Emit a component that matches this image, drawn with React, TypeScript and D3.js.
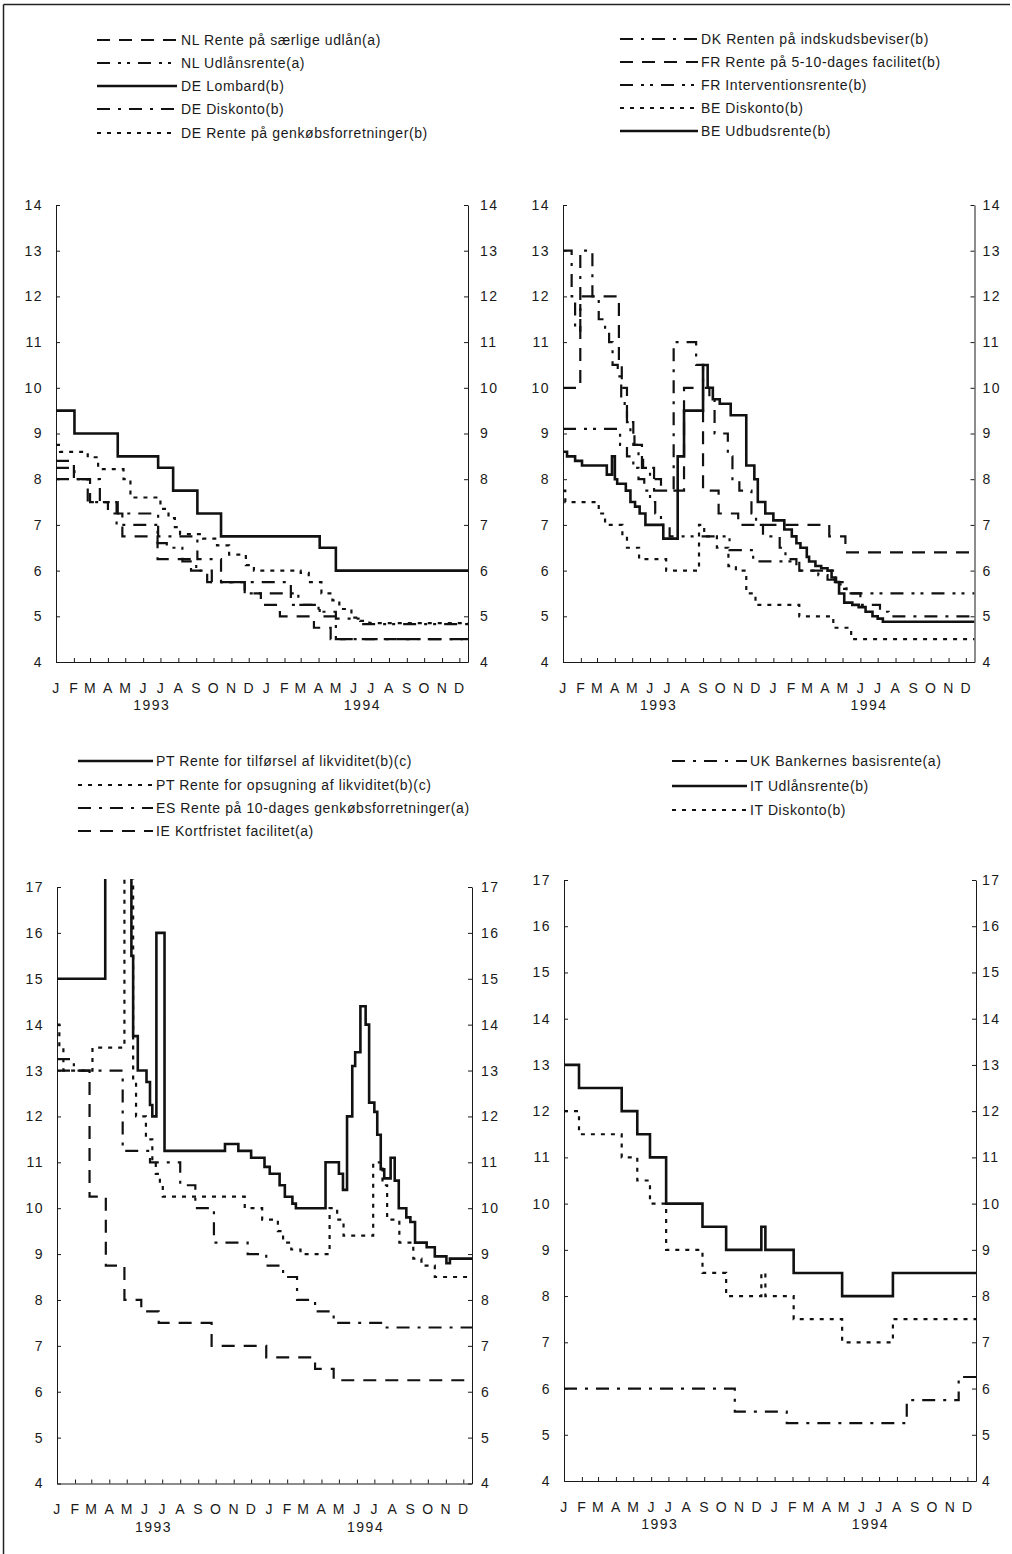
import React, { useEffect, useRef } from "react";
import * as d3 from "d3";

type Step = [string, number];

const FONT = "'Liberation Sans', Arial, Helvetica, sans-serif";

const monthLetters = ["J", "F", "M", "A", "M", "J", "J", "A", "S", "O", "N", "D"];
const yearLabels = ["1993", "1994"];
const yTicksTop = [4, 5, 6, 7, 8, 9, 10, 11, 12, 13, 14];
const yTicksBottom = [4, 5, 6, 7, 8, 9, 10, 11, 12, 13, 14, 15, 16, 17];

// ---- panel 1: NL / DE
const nlSaerligeUdlaan: Step[] = [
  ["1993-01-01", 8.4], ["1993-02-01", 8.0], ["1993-03-01", 7.5], ["1993-04-01", 7.25],
  ["1993-04-26", 6.75], ["1993-06-26", 6.25], ["1993-08-23", 6.0], ["1993-09-20", 5.75],
  ["1993-11-24", 5.5], ["1993-12-22", 5.25], ["1994-01-24", 5.0], ["1994-03-24", 4.75],
  ["1994-04-22", 4.5],
];
const nlUdlaansrente: Step[] = [
  ["1993-01-01", 8.0], ["1993-02-25", 7.5], ["1993-04-16", 7.0], ["1993-06-26", 6.6],
  ["1993-07-12", 6.5], ["1993-08-08", 6.2], ["1993-09-01", 6.0], ["1993-09-28", 5.75],
  ["1993-11-24", 5.5], ["1994-02-25", 5.25], ["1994-04-01", 5.1], ["1994-05-01", 4.95],
  ["1994-06-15", 4.83],
];
const deLombard: Step[] = [
  ["1993-01-01", 9.5], ["1993-02-02", 9.0], ["1993-04-18", 8.5], ["1993-06-27", 8.25],
  ["1993-07-23", 7.75], ["1993-09-03", 7.25], ["1993-10-14", 6.75], ["1994-04-03", 6.5],
  ["1994-05-01", 6.0],
];
const deDiskonto: Step[] = [
  ["1993-01-01", 8.25], ["1993-02-02", 8.0], ["1993-03-18", 7.5], ["1993-04-18", 7.25],
  ["1993-06-27", 6.75], ["1993-09-03", 6.25], ["1993-10-14", 5.75], ["1994-02-12", 5.25],
  ["1994-04-03", 5.0], ["1994-05-01", 4.5],
];
const deGenkoeb: Step[] = [
  ["1993-01-01", 8.75], ["1993-01-08", 8.6], ["1993-02-25", 8.48], ["1993-03-15", 8.22],
  ["1993-04-28", 8.0], ["1993-05-10", 7.6], ["1993-07-01", 7.35], ["1993-07-15", 7.15],
  ["1993-07-26", 6.95], ["1993-08-04", 6.8], ["1993-09-13", 6.7], ["1993-10-07", 6.55],
  ["1993-10-28", 6.35], ["1993-11-26", 6.12], ["1993-12-10", 6.0], ["1994-03-01", 5.95],
  ["1994-03-15", 5.75], ["1994-04-06", 5.5], ["1994-04-25", 5.35], ["1994-05-07", 5.16],
  ["1994-05-28", 4.97], ["1994-06-12", 4.9], ["1994-06-28", 4.85],
];

// ---- panel 2: DK / FR / BE
const dkIndskud: Step[] = [
  ["1993-01-01", 13.0], ["1993-01-16", 12.0], ["1993-01-22", 11.25], ["1993-01-31", 13.0],
  ["1993-02-21", 12.0], ["1993-03-04", 11.5], ["1993-03-15", 11.25], ["1993-03-22", 11.0],
  ["1993-03-28", 10.5], ["1993-04-06", 10.25], ["1993-04-12", 9.75], ["1993-04-18", 9.5],
  ["1993-04-22", 9.25], ["1993-04-28", 9.0], ["1993-05-05", 8.75], ["1993-05-12", 8.5],
  ["1993-05-20", 8.25], ["1993-06-01", 8.0], ["1993-06-20", 7.75], ["1993-07-12", 11.0],
  ["1993-08-20", 10.5], ["1993-09-01", 10.0], ["1993-09-12", 9.75], ["1993-09-21", 9.0],
  ["1993-10-14", 8.5], ["1993-10-22", 8.0], ["1993-11-03", 7.75], ["1993-11-24", 7.25],
  ["1993-12-02", 7.0], ["1993-12-14", 6.75], ["1994-01-12", 6.5], ["1994-01-22", 6.25],
  ["1994-02-10", 6.0], ["1994-04-20", 5.75], ["1994-05-08", 5.5], ["1994-06-01", 5.25],
  ["1994-07-05", 5.1], ["1994-07-20", 5.0],
];
const frFacilitet: Step[] = [
  ["1993-01-01", 10.0], ["1993-01-31", 12.0], ["1993-04-08", 10.5], ["1993-04-13", 10.0],
  ["1993-04-22", 9.25], ["1993-05-03", 8.75], ["1993-05-18", 8.25], ["1993-06-08", 7.75],
  ["1993-07-30", 10.0], ["1993-09-01", 7.75], ["1993-09-28", 7.25], ["1993-11-01", 7.0],
  ["1994-04-08", 6.75], ["1994-05-06", 6.4],
];
const frIntervention: Step[] = [
  ["1993-01-01", 9.1], ["1993-04-10", 8.75], ["1993-04-22", 8.5], ["1993-05-03", 8.25],
  ["1993-05-12", 8.0], ["1993-05-22", 7.75], ["1993-06-01", 7.5], ["1993-06-10", 7.25],
  ["1993-06-20", 7.0], ["1993-07-05", 6.75], ["1993-10-17", 6.45], ["1993-11-27", 6.2],
  ["1994-02-15", 6.0], ["1994-03-20", 5.9], ["1994-04-05", 5.8], ["1994-04-20", 5.7],
  ["1994-05-01", 5.6], ["1994-05-15", 5.5],
];
const beDiskonto: Step[] = [
  ["1993-01-01", 7.75], ["1993-01-05", 7.5], ["1993-03-04", 7.25], ["1993-03-15", 7.0],
  ["1993-04-14", 6.75], ["1993-04-22", 6.5], ["1993-05-13", 6.25], ["1993-06-29", 6.0],
  ["1993-08-25", 7.0], ["1993-09-03", 6.75], ["1993-09-25", 6.5], ["1993-10-15", 6.1],
  ["1993-10-28", 6.0], ["1993-11-15", 5.5], ["1993-12-01", 5.25], ["1994-02-15", 5.0],
  ["1994-04-15", 4.75], ["1994-05-16", 4.5],
];
const beUdbud: Step[] = [
  ["1993-01-01", 8.6], ["1993-01-08", 8.5], ["1993-01-22", 8.4], ["1993-02-03", 8.3],
  ["1993-03-18", 8.1], ["1993-03-27", 8.5], ["1993-04-01", 8.0], ["1993-04-05", 7.9],
  ["1993-04-20", 7.75], ["1993-04-28", 7.5], ["1993-05-06", 7.4], ["1993-05-14", 7.25],
  ["1993-05-24", 7.0], ["1993-06-24", 6.7], ["1993-07-19", 8.5], ["1993-07-30", 9.5],
  ["1993-09-01", 10.5], ["1993-09-09", 10.0], ["1993-09-18", 9.75], ["1993-09-30", 9.65],
  ["1993-10-19", 9.4], ["1993-11-15", 8.3], ["1993-11-29", 8.0], ["1993-12-05", 7.5],
  ["1993-12-18", 7.25], ["1994-01-01", 7.1], ["1994-01-20", 6.9], ["1994-02-02", 6.75],
  ["1994-02-10", 6.6], ["1994-02-17", 6.5], ["1994-02-28", 6.3], ["1994-03-04", 6.2],
  ["1994-03-15", 6.1], ["1994-03-25", 6.05], ["1994-04-05", 6.0], ["1994-04-12", 5.85],
  ["1994-04-18", 5.75], ["1994-04-25", 5.5], ["1994-05-04", 5.3], ["1994-05-18", 5.25],
  ["1994-05-29", 5.2], ["1994-06-10", 5.1], ["1994-06-22", 5.0], ["1994-07-01", 4.95],
  ["1994-07-10", 4.88],
];

// ---- panel 3: PT / ES / IE
const ptTilfoersel: Step[] = [
  ["1993-01-01", 15.0], ["1993-03-25", 20.0], ["1993-05-09", 15.5], ["1993-05-12", 13.75],
  ["1993-05-20", 13.0], ["1993-06-04", 12.75], ["1993-06-10", 12.25], ["1993-06-14", 12.0],
  ["1993-06-21", 16.0], ["1993-07-05", 11.25], ["1993-10-17", 11.4], ["1993-11-09", 11.25],
  ["1993-12-01", 11.1], ["1993-12-24", 10.9], ["1994-01-02", 10.75], ["1994-01-19", 10.5],
  ["1994-01-28", 10.25], ["1994-02-10", 10.1], ["1994-02-16", 10.0], ["1994-04-08", 11.0],
  ["1994-05-01", 10.75], ["1994-05-08", 10.4], ["1994-05-15", 12.0], ["1994-05-24", 13.1],
  ["1994-05-29", 13.4], ["1994-06-07", 14.4], ["1994-06-16", 14.0], ["1994-06-22", 12.3],
  ["1994-07-01", 12.1], ["1994-07-06", 11.6], ["1994-07-12", 10.85], ["1994-07-18", 10.65],
  ["1994-07-29", 11.1], ["1994-08-05", 10.6], ["1994-08-12", 10.0], ["1994-08-25", 9.8],
  ["1994-09-01", 9.7], ["1994-09-09", 9.25], ["1994-09-29", 9.15], ["1994-10-13", 8.95],
  ["1994-11-02", 8.8], ["1994-11-08", 8.9],
];
const ptOpsugning: Step[] = [
  ["1993-01-01", 14.0], ["1993-01-05", 13.5], ["1993-01-12", 13.0], ["1993-03-03", 13.5],
  ["1993-04-27", 17.5], ["1993-05-12", 12.75], ["1993-05-17", 12.0], ["1993-06-03", 11.5],
  ["1993-06-14", 11.0], ["1993-06-20", 10.75], ["1993-06-27", 10.5], ["1993-07-02", 10.25],
  ["1993-11-20", 10.0], ["1993-12-20", 9.75], ["1994-01-16", 9.5], ["1994-01-25", 9.25],
  ["1994-02-08", 9.1], ["1994-02-24", 9.0], ["1994-04-15", 10.0], ["1994-04-28", 9.75],
  ["1994-05-09", 9.4], ["1994-06-29", 11.0], ["1994-07-15", 10.5], ["1994-07-23", 9.75],
  ["1994-08-13", 9.25], ["1994-09-06", 8.9], ["1994-09-20", 8.75], ["1994-10-13", 8.5],
];
const esGenkoeb: Step[] = [
  ["1993-01-01", 13.25], ["1993-01-30", 13.0], ["1993-04-24", 11.25], ["1993-06-10", 11.0],
  ["1993-08-01", 10.5], ["1993-08-27", 10.0], ["1993-09-28", 9.25], ["1993-11-25", 9.0],
  ["1993-12-27", 8.75], ["1994-01-25", 8.5], ["1994-02-18", 8.0], ["1994-03-21", 7.75],
  ["1994-04-22", 7.5], ["1994-07-17", 7.4],
];
const ieKortfristet: Step[] = [
  ["1993-01-01", 13.0], ["1993-02-26", 10.25], ["1993-03-26", 8.75], ["1993-04-27", 8.0],
  ["1993-05-26", 7.75], ["1993-06-25", 7.5], ["1993-09-24", 7.0], ["1993-12-27", 6.75],
  ["1994-03-21", 6.5], ["1994-04-22", 6.25],
];

// ---- panel 4: UK / IT
const ukBasis: Step[] = [
  ["1993-01-01", 6.0], ["1993-10-24", 5.5], ["1994-01-22", 5.25], ["1994-08-18", 5.75],
  ["1994-11-16", 6.25],
];
const itUdlaan: Step[] = [
  ["1993-01-01", 13.0], ["1993-01-27", 12.5], ["1993-04-11", 12.0], ["1993-05-08", 11.5],
  ["1993-05-30", 11.0], ["1993-06-27", 10.0], ["1993-08-29", 9.5], ["1993-10-09", 9.0],
  ["1993-12-09", 9.5], ["1993-12-16", 9.0], ["1994-02-03", 8.5], ["1994-04-28", 8.0],
  ["1994-07-25", 8.5],
];
const itDiskonto: Step[] = [
  ["1993-01-01", 12.0], ["1993-01-27", 11.5], ["1993-04-11", 11.0], ["1993-05-08", 10.5],
  ["1993-05-30", 10.0], ["1993-06-27", 9.0], ["1993-08-29", 8.5], ["1993-10-09", 8.0],
  ["1993-12-09", 8.5], ["1993-12-16", 8.0], ["1994-02-03", 7.5], ["1994-04-28", 7.0],
  ["1994-07-25", 7.5],
];

const dashes: Record<string, string | null> = {
  solid: null,
  longDash: "13,9",
  dashDot: "13,8,3,8",
  dashDotDot: "13,8,3,6,3,8",
  dotted: "4,6",
};

const panels = [
  {
    id: "nl", x0: 56, x1: 468, yTop: 205, yBot: 662, yMax: 14, ticks: yTicksTop, rightPad: 12,
    legend: { lx0: 97, lx1: 177, tx: 181, rows: [40, 63, 86, 109, 133] },
    series: [
      { label: "NL Rente på særlige udlån(a)", data: nlSaerligeUdlaan, style: "longDash" },
      { label: "NL Udlånsrente(a)", data: nlUdlaansrente, style: "dashDotDot" },
      { label: "DE Lombard(b)", data: deLombard, style: "solid" },
      { label: "DE Diskonto(b)", data: deDiskonto, style: "dashDot" },
      { label: "DE Rente på genkøbsforretninger(b)", data: deGenkoeb, style: "dotted" },
    ],
  },
  {
    id: "fr", x0: 563, x1: 974.5, yTop: 205, yBot: 662, yMax: 14, ticks: yTicksTop, rightPad: 8,
    legend: { lx0: 620, lx1: 698, tx: 701, rows: [39, 62, 85, 108, 131] },
    series: [
      { label: "DK Renten på indskudsbeviser(b)", data: dkIndskud, style: "dashDot" },
      { label: "FR Rente på 5-10-dages facilitet(b)", data: frFacilitet, style: "longDash" },
      { label: "FR Interventionsrente(b)", data: frIntervention, style: "dashDotDot" },
      { label: "BE Diskonto(b)", data: beDiskonto, style: "dotted" },
      { label: "BE Udbudsrente(b)", data: beUdbud, style: "solid" },
    ],
  },
  {
    id: "pt", x0: 57, x1: 472, yTop: 887, yBot: 1483.5, yMax: 17, ticks: yTicksBottom, rightPad: 9,
    legend: { lx0: 78, lx1: 153, tx: 156, rows: [761, 785, 808, 831] },
    series: [
      { label: "PT Rente for tilførsel af likviditet(b)(c)", data: ptTilfoersel, style: "solid" },
      { label: "PT Rente for opsugning af likviditet(b)(c)", data: ptOpsugning, style: "dotted" },
      { label: "ES Rente på 10-dages genkøbsforretninger(a)", data: esGenkoeb, style: "dashDot" },
      { label: "IE Kortfristet facilitet(a)", data: ieKortfristet, style: "longDash" },
    ],
  },
  {
    id: "it", x0: 564, x1: 976, yTop: 880, yBot: 1481, yMax: 17, ticks: yTicksBottom, rightPad: 6,
    legend: { lx0: 672, lx1: 747, tx: 750, rows: [761, 786, 810] },
    series: [
      { label: "UK Bankernes basisrente(a)", data: ukBasis, style: "dashDot" },
      { label: "IT Udlånsrente(b)", data: itUdlaan, style: "solid" },
      { label: "IT Diskonto(b)", data: itDiskonto, style: "dotted" },
    ],
  },
];

const parse = d3.timeParse("%Y-%m-%d");
const start = new Date(1993, 0, 1);
const end = new Date(1994, 11, 16);

function drawPanel(svg: any, p: any) {
  const x = d3.scaleTime().domain([start, end]).range([p.x0, p.x1]);
  const y = d3.scaleLinear().domain([4, p.yMax]).range([p.yBot, p.yTop]);

  const clipId = "clip-" + p.id;
  svg.append("defs").append("clipPath").attr("id", clipId)
    .append("rect")
    .attr("x", p.x0).attr("y", p.yTop - 8)
    .attr("width", p.x1 - p.x0).attr("height", p.yBot - p.yTop + 8);

  const g = svg.append("g").attr("color", "#1a1a1a");

  // left axis, ticks pointing in
  g.append("g")
    .attr("transform", `translate(${p.x0},0)`)
    .call(d3.axisLeft(y).tickValues(p.ticks).tickSizeInner(-4).tickSizeOuter(0).tickPadding(13).tickFormat(d3.format("d")));

  // right axis
  g.append("g")
    .attr("transform", `translate(${p.x1},0)`)
    .call(d3.axisRight(y).tickValues(p.ticks).tickSizeInner(-4).tickSizeOuter(0).tickPadding(p.rightPad).tickFormat(d3.format("d")));

  // month axis
  g.append("g")
    .attr("transform", `translate(0,${p.yBot})`)
    .call(d3.axisBottom(x).ticks(d3.timeMonth.every(1)).tickSizeInner(-4).tickSizeOuter(0).tickPadding(21)
      .tickFormat((d: any) => monthLetters[d.getMonth()]));

  g.selectAll("text")
    .attr("font-family", FONT)
    .attr("font-size", 14)
    .attr("letter-spacing", 1.5);
  g.selectAll(".domain").attr("stroke-width", 1);

  // year labels under the months
  g.selectAll("text.year")
    .data(yearLabels)
    .join("text")
    .attr("class", "year")
    .attr("x", (d: string) => x(new Date(+d, 5, 16)))
    .attr("y", p.yBot + 48)
    .attr("text-anchor", "middle")
    .attr("font-family", FONT)
    .attr("font-size", 14)
    .attr("letter-spacing", 1.5)
    .attr("fill", "#1a1a1a")
    .text((d: string) => d);

  // the step lines
  const line = d3.line<[Date, number]>()
    .x((d) => x(d[0]))
    .y((d) => y(d[1]))
    .curve(d3.curveStepAfter);

  p.series.forEach((s: any) => {
    const pts: [Date, number][] = s.data.map(([d, v]: Step) => [parse(d) as Date, v]);
    pts.push([end, pts[pts.length - 1][1]]);
    svg.append("path")
      .attr("d", line(pts))
      .attr("fill", "none")
      .attr("stroke", "#111")
      .attr("stroke-width", s.style === "solid" ? 2.6 : 2.2)
      .attr("stroke-dasharray", dashes[s.style])
      .attr("clip-path", `url(#${clipId})`);
  });

  // legend above the panel
  const lg = svg.append("g");
  p.series.forEach((s: any, i: number) => {
    const ry = p.legend.rows[i];
    lg.append("line")
      .attr("x1", p.legend.lx0).attr("x2", p.legend.lx1)
      .attr("y1", ry).attr("y2", ry)
      .attr("stroke", "#111")
      .attr("stroke-width", s.style === "solid" ? 2.6 : 2.2)
      .attr("stroke-dasharray", dashes[s.style]);
    lg.append("text")
      .attr("x", p.legend.tx)
      .attr("y", ry + 5)
      .attr("font-family", FONT)
      .attr("font-size", 14)
      .attr("letter-spacing", 0.6)
      .attr("fill", "#1a1a1a")
      .text(s.label);
  });
}

export default function App() {
  const ref = useRef<SVGSVGElement>(null);

  useEffect(() => {
    const svg = d3.select(ref.current);
    svg.selectAll("*").remove();

    svg.append("rect").attr("width", 1012).attr("height", 1554).attr("fill", "#fff");

    // outer frame (only top and left edges show in the scan)
    svg.append("line").attr("x1", 3.5).attr("x2", 1010).attr("y1", 4.5).attr("y2", 4.5)
      .attr("stroke", "#222").attr("stroke-width", 1.5);
    svg.append("line").attr("x1", 3.5).attr("x2", 3.5).attr("y1", 4.5).attr("y2", 1554)
      .attr("stroke", "#222").attr("stroke-width", 1.5);

    panels.forEach((p) => drawPanel(svg, p));
  }, []);

  return (
    <svg
      ref={ref}
      width={1012}
      height={1554}
      style={{ position: "absolute", left: 0, top: 0, background: "#fff" }}
    />
  );
}
